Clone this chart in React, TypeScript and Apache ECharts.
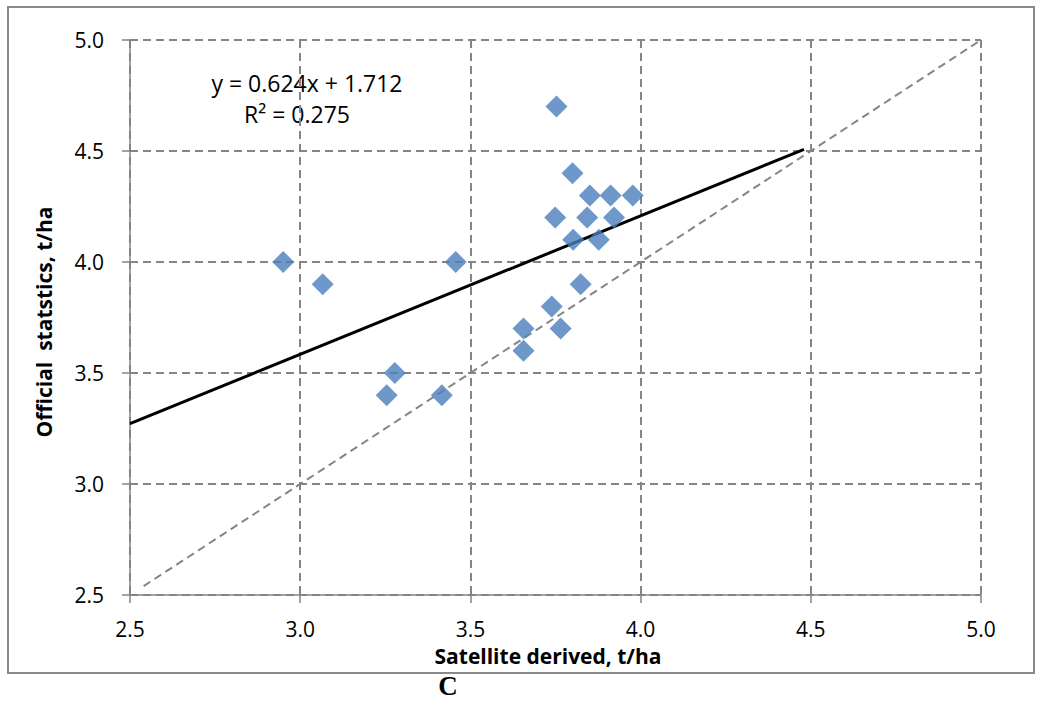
import React, { useEffect, useRef } from "react";
import * as echarts from "echarts";

const satellite = [3.753, 3.8, 3.851, 3.912, 3.977, 3.749, 3.843, 3.922, 3.802, 3.877, 2.95, 3.457, 3.066, 3.824, 3.739, 3.656, 3.765, 3.656, 3.278, 3.254, 3.416];
const official = [4.7, 4.4, 4.3, 4.3, 4.3, 4.2, 4.2, 4.2, 4.1, 4.1, 4.0, 4.0, 3.9, 3.9, 3.8, 3.7, 3.7, 3.6, 3.5, 3.4, 3.4];
const slope = 0.624;
const intercept = 1.712;
const trendX = [2.5, 4.48];
const oneToOne = [2.54, 5.0];
const ticks = [2.5, 3.0, 3.5, 4.0, 4.5, 5.0];

export default function App() {
  const ref = useRef<HTMLDivElement>(null);
  useEffect(() => {
    const chart = echarts.init(ref.current!, null, { renderer: "svg" });
    const font = "'Open Sans', Lato, sans-serif";
    const gray = "#858585";
    const axisCommon = {
      type: "value",
      min: ticks[0],
      max: ticks[ticks.length - 1],
      interval: 0.5,
      axisLine: { show: true, lineStyle: { color: gray, width: 1.5 } },
      axisTick: { show: true, inside: false, length: 8, lineStyle: { color: gray, width: 1.5 } },
      splitLine: { show: true, lineStyle: { color: gray, width: 2, type: [8, 5] } },
      axisLabel: { color: "#000", fontSize: 21, fontFamily: font, formatter: (v: number) => v.toFixed(1) },
    };
    chart.setOption({
      animation: false,
      backgroundColor: "#fff",
      grid: { left: 130, top: 40, width: 851, height: 555, containLabel: false },
      xAxis: { ...axisCommon, axisLabel: { ...axisCommon.axisLabel, margin: 23 } },
      yAxis: { ...axisCommon, axisLabel: { ...axisCommon.axisLabel, margin: 26 } },
      series: [
        {
          type: "line",
          data: oneToOne.map((v) => [v, v]),
          symbol: "none",
          lineStyle: { color: gray, width: 2, type: [8, 5] },
          z: 2,
        },
        {
          type: "line",
          data: trendX.map((x) => [x, slope * x + intercept]),
          symbol: "none",
          lineStyle: { color: "#000", width: 3 },
          z: 3,
        },
        {
          type: "scatter",
          data: satellite.map((x, i) => [x, official[i]]),
          symbol: "diamond",
          symbolSize: [22, 22],
          itemStyle: { color: "#4a7ebb" },
          z: 4,
        },
      ],
      graphic: [
        {
          type: "rect",
          shape: { x: 8, y: 7, width: 1026, height: 666 },
          style: { fill: "none", stroke: "#8a8a8a", lineWidth: 2 },
          silent: true,
        },
        {
          type: "text",
          x: 307,
          y: 83,
          style: { text: "y = 0.624x + 1.712", font: `23px ${font}`, fill: "#000", align: "center", verticalAlign: "middle" },
        },
        {
          type: "text",
          x: 297,
          y: 114,
          style: { text: "R² = 0.275", font: `23px ${font}`, fill: "#000", align: "center", verticalAlign: "middle" },
        },
        {
          type: "text",
          x: 548,
          y: 656,
          style: { text: "Satellite derived, t/ha", font: `bold 21px ${font}`, fill: "#000", align: "center", verticalAlign: "middle" },
        },
        {
          type: "text",
          x: 44,
          y: 322,
          rotation: Math.PI / 2,
          style: { text: "Official  statstics, t/ha", font: `bold 21px ${font}`, fill: "#000", align: "center", verticalAlign: "middle" },
        },
        {
          type: "text",
          x: 448,
          y: 686,
          style: { text: "C", font: "bold 27px 'Liberation Serif', 'DejaVu Serif', serif", fill: "#000", align: "center", verticalAlign: "middle" },
        },
      ],
    });
    return () => chart.dispose();
  }, []);
  return <div ref={ref} style={{ position: "fixed", left: 0, top: 0, width: 1043, height: 725 }} />;
}
